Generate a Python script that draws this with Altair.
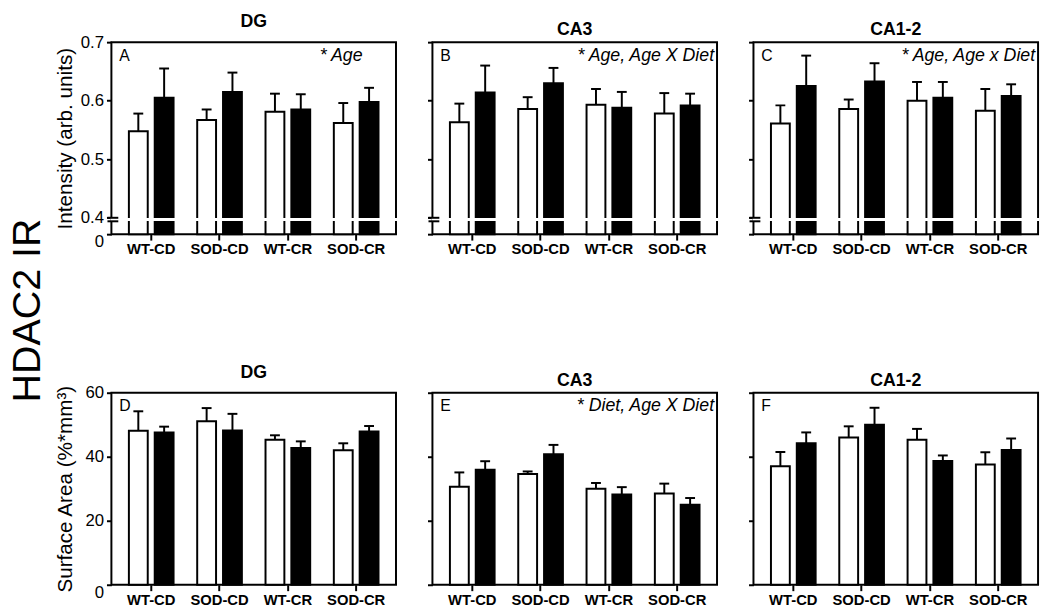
import altair as alt
import pandas as pd

FONT = "Liberation Sans"

groups = ["WT-CD", "SOD-CD", "WT-CR", "SOD-CR"]
ages = ["Young", "Old"]

# Intensity (arb. units), top row
dg_int_young = [0.548, 0.567, 0.581, 0.562]
dg_int_young_sem = [0.030, 0.018, 0.031, 0.034]
dg_int_old = [0.605, 0.615, 0.585, 0.598]
dg_int_old_sem = [0.050, 0.033, 0.026, 0.024]

ca3_int_young = [0.563, 0.586, 0.593, 0.578]
ca3_int_young_sem = [0.032, 0.020, 0.027, 0.035]
ca3_int_old = [0.614, 0.630, 0.588, 0.592]
ca3_int_old_sem = [0.046, 0.026, 0.027, 0.020]

ca12_int_young = [0.561, 0.586, 0.600, 0.583]
ca12_int_young_sem = [0.031, 0.016, 0.032, 0.037]
ca12_int_old = [0.625, 0.633, 0.605, 0.608]
ca12_int_old_sem = [0.052, 0.031, 0.027, 0.020]

# Surface area (%*mm3), bottom row
dg_sa_young = [48.1, 51.1, 45.3, 42.0]
dg_sa_young_sem = [6.1, 4.1, 1.4, 2.2]
dg_sa_old = [47.6, 48.2, 42.7, 47.9]
dg_sa_old_sem = [1.8, 5.2, 2.1, 1.7]

ca3_sa_young = [30.6, 34.6, 30.0, 28.5]
ca3_sa_young_sem = [4.5, 0.8, 1.8, 3.1]
ca3_sa_old = [35.9, 40.8, 28.2, 25.0]
ca3_sa_old_sem = [2.7, 2.9, 2.3, 2.1]

ca12_sa_young = [37.0, 46.0, 45.3, 37.6]
ca12_sa_young_sem = [4.5, 3.5, 3.4, 3.8]
ca12_sa_old = [44.2, 50.0, 38.7, 42.1]
ca12_sa_old_sem = [3.4, 5.3, 1.7, 3.6]

regions = ["DG", "CA3", "CA1-2"]
letters = ["A", "B", "C", "D", "E", "F"]
notes = ["* Age", "* Age, Age X Diet", "* Age, Age x Diet", "", "* Diet, Age X Diet", ""]

W = 289
H = 195
INT_BASE = 0.372
BREAK_Y = 0.397
BREAK_MARKS = [0.4, 0.394]


def panel(idx, young, young_sem, old, old_sem, note_right):
    top_row = idx < 3
    first_col = idx % 3 == 0
    df = pd.DataFrame({
        "group": groups * 2,
        "age": ["Young"] * 4 + ["Old"] * 4,
        "mean": young + old,
        "sem": young_sem + old_sem,
    })
    df["top"] = df["mean"] + df["sem"]

    if top_row:
        domain = [INT_BASE, 0.7]
        base = INT_BASE
        ticks = [INT_BASE, 0.4, 0.5, 0.6, 0.7]
        label_expr = "datum.value < 0.38 ? '0' : format(datum.value, '.1f')"
        zero_test = "datum.value < 0.38"
        ytitle = "Intensity (arb. units)" if first_col else ""
    else:
        domain = [0, 60]
        base = 0
        ticks = [0, 20, 40, 60]
        label_expr = "format(datum.value, 'd')"
        zero_test = "datum.value < 1"
        ytitle = "Surface Area (%*mm\u00b3)" if first_col else ""

    yscale = alt.Scale(domain=domain, nice=False, zero=False)
    yaxis = alt.Axis(
        values=ticks, labelExpr=label_expr, labels=first_col, labelOverlap=False,
        labelFlush=False,
        labelBaseline={"condition": {"test": zero_test, "value": "top"}, "value": "middle"},
        title=ytitle if first_col else None,
        grid=False, domain=False, tickSize=5, tickWidth=2, tickColor="black",
        labelFont=FONT, labelFontSize=17, labelColor="black", labelPadding=3,
        titleFont=FONT, titleFontSize=21, titleFontWeight="normal", titleColor="black",
        titlePadding=5, minExtent=32 if first_col else 5, maxExtent=32 if first_col else 5,
    )

    def Y(field):
        return alt.Y(field, scale=yscale, axis=yaxis, title=ytitle if first_col else None)

    x = alt.X("group:N", sort=groups,
              scale=alt.Scale(paddingInner=0.346, paddingOuter=0.256),
              axis=alt.Axis(title=None, labelAngle=0, labelFont=FONT, labelFontWeight="bold",
                            labelFontSize=15, labelColor="black", tickColor="black",
                            tickWidth=2, tickSize=6, domain=False, labelPadding=2))
    xo = alt.XOffset("age:N", sort=ages, scale=alt.Scale(paddingInner=0.27, paddingOuter=0))

    basec = alt.Chart(df)
    bars = basec.mark_bar(stroke="black", strokeWidth=2).encode(
        x=x, xOffset=xo, y=Y("mean:Q"), y2=alt.datum(base),
        fill=alt.Fill("age:N", scale=alt.Scale(domain=ages, range=["white", "black"]), legend=None),
    )
    err = basec.mark_rule(color="black", strokeWidth=2).encode(
        x=x, xOffset=xo, y=Y("mean:Q"), y2="top:Q")
    cap = basec.mark_tick(color="black", thickness=2, size=10, opacity=1).encode(
        x=x, xOffset=xo, y=Y("top:Q"))

    layers = [err, cap, bars]

    lab = alt.Chart(pd.DataFrame({"t": [letters[idx]]})).mark_text(
        font=FONT, fontSize=16, align="left", baseline="top", color="black"
    ).encode(x=alt.value(8), y=alt.value(6), text="t:N")
    layers.append(lab)
    if notes[idx]:
        nt = alt.Chart(pd.DataFrame({"t": [notes[idx]]})).mark_text(
            font=FONT, fontSize=18, fontStyle="italic", align="right", baseline="top", color="black"
        ).encode(x=alt.value(W - note_right), y=alt.value(5), text="t:N")
        layers.append(nt)

    if top_row:
        brk = alt.Chart(pd.DataFrame({"mean": [BREAK_Y]})).mark_rule(
            color="white", strokeWidth=3).encode(y=Y("mean:Q"), x=alt.value(-1), x2=alt.value(W + 1))
        marks = alt.Chart(pd.DataFrame({"mean": BREAK_MARKS})).mark_rule(
            color="black", strokeWidth=2).encode(y=Y("mean:Q"), x=alt.value(-4), x2=alt.value(7))
        layers += [brk, marks]

    return alt.layer(*layers).properties(
        width=W, height=H,
        title=alt.TitleParams(regions[idx % 3], font=FONT, fontSize=18, fontWeight="bold",
                              color="black", offset=2, anchor="middle"),
    )


specs = [
    (dg_int_young, dg_int_young_sem, dg_int_old, dg_int_old_sem, 34),
    (ca3_int_young, ca3_int_young_sem, ca3_int_old, ca3_int_old_sem, 3),
    (ca12_int_young, ca12_int_young_sem, ca12_int_old, ca12_int_old_sem, 3),
    (dg_sa_young, dg_sa_young_sem, dg_sa_old, dg_sa_old_sem, 3),
    (ca3_sa_young, ca3_sa_young_sem, ca3_sa_old, ca3_sa_old_sem, 3),
    (ca12_sa_young, ca12_sa_young_sem, ca12_sa_old, ca12_sa_old_sem, 3),
]

panels = [panel(i, *s) for i, s in enumerate(specs)]

chart = alt.concat(*panels, columns=3, spacing={"row": 107, "column": 26}).properties(
    title=alt.TitleParams("HDAC2 IR", orient="left", anchor="middle", font=FONT,
                          fontSize=40, fontWeight="normal", color="black", offset=5),
    padding={"left": 0, "top": 0, "right": 0, "bottom": 0},
).configure_view(stroke="black", strokeWidth=2).configure_axis(
    labelColor="black"
)

chart.save("out.html", embed_options={"renderer": "svg", "actions": False})
